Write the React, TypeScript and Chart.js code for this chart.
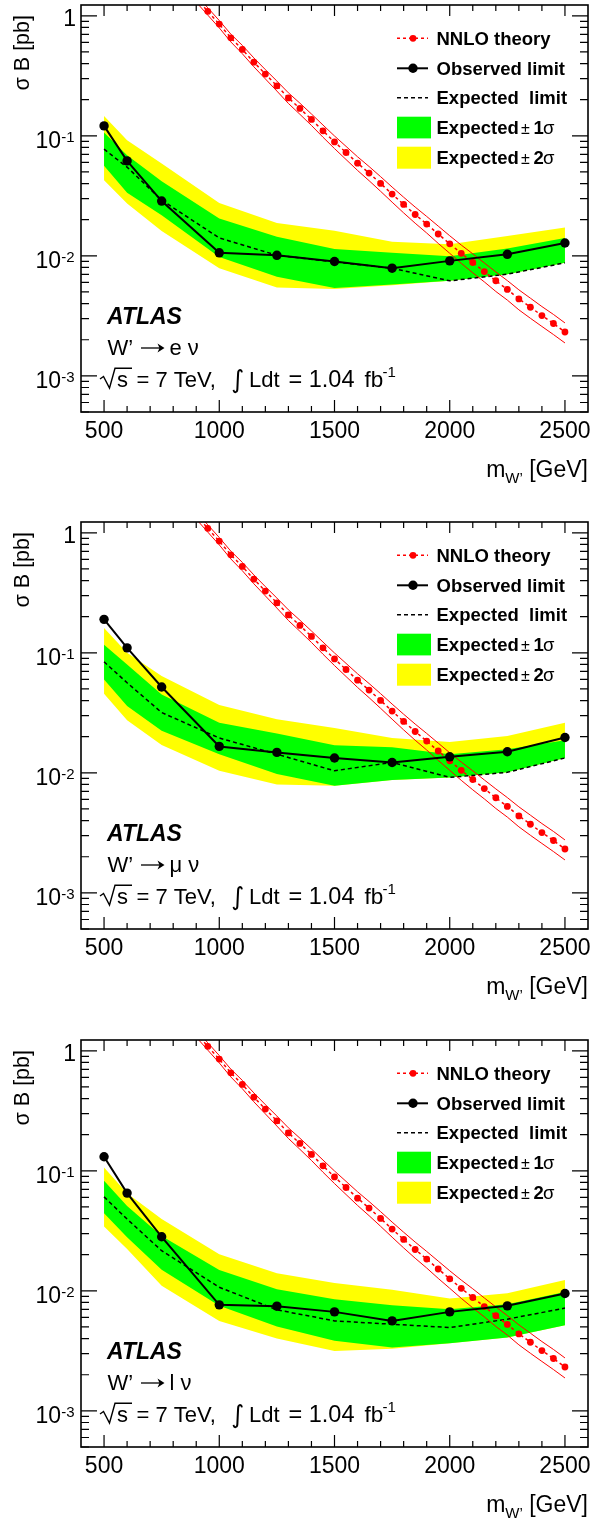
import React, { useEffect, useRef } from "react";
import { Chart, registerables } from "chart.js";

Chart.register(...registerables);

// ---------------- data ----------------
const massPoints = [500, 600, 750, 1000, 1250, 1500, 1750, 2000, 2250, 2500];

const theoryMass = [900, 950, 1000, 1050, 1100, 1150, 1200, 1250, 1300, 1350, 1400, 1450, 1500, 1550, 1600, 1650, 1700, 1750, 1800, 1850, 1900, 1950, 2000, 2050, 2100, 2150, 2200, 2250, 2300, 2350, 2400, 2450, 2500];
const theoryXsec = [1.40, 1.09, 0.853, 0.655, 0.525, 0.411, 0.327, 0.261, 0.207, 0.169, 0.137, 0.110, 0.089, 0.0726, 0.0592, 0.0489, 0.0401, 0.0327, 0.0268, 0.0221, 0.0184, 0.0152, 0.0126, 0.0105, 0.0088, 0.0074, 0.0062, 0.00525, 0.00438, 0.00373, 0.00318, 0.00273, 0.00232];
const theoryHigh = [1.50, 1.166, 0.913, 0.704, 0.567, 0.446, 0.356, 0.286, 0.228, 0.187, 0.152, 0.123, 0.0997, 0.0817, 0.0669, 0.0555, 0.0457, 0.0374, 0.0308, 0.0255, 0.0213, 0.0177, 0.0147, 0.0123, 0.0104, 0.00873, 0.00735, 0.00622, 0.00521, 0.00444, 0.00378, 0.00325, 0.00276];
const theoryLow = [1.30, 1.014, 0.793, 0.606, 0.483, 0.376, 0.298, 0.236, 0.186, 0.151, 0.122, 0.0974, 0.0783, 0.0635, 0.0515, 0.0423, 0.0345, 0.0280, 0.0228, 0.0187, 0.0155, 0.0127, 0.0105, 0.00866, 0.00722, 0.00607, 0.00505, 0.00428, 0.00355, 0.00302, 0.00258, 0.00221, 0.00188];

// W' -> e nu
const obsE = [0.121, 0.0618, 0.0286, 0.0106, 0.0101, 0.00898, 0.00789, 0.00908, 0.0103, 0.0128];
const expE = [0.0774, 0.0548, 0.0291, 0.0141, 0.0101, 0.0089, 0.00789, 0.00619, 0.00703, 0.00874];
const sig1UpE = [0.1066, 0.069, 0.0419, 0.0205, 0.0144, 0.0114, 0.0106, 0.0099, 0.0115, 0.0141];
const sig1DnE = [0.0562, 0.0335, 0.0218, 0.0098, 0.00668, 0.0054, 0.00577, 0.00619, 0.00703, 0.00874];
const sig2UpE = [0.146, 0.092, 0.0589, 0.0276, 0.0188, 0.0162, 0.0131, 0.0125, 0.0146, 0.0172];
const sig2DnE = [0.0427, 0.0273, 0.0161, 0.0079, 0.00545, 0.0053, 0.0057, 0.00619, 0.00703, 0.00874];

// W' -> mu nu
const obsMu = [0.190, 0.110, 0.0519, 0.0166, 0.0148, 0.0133, 0.0122, 0.0136, 0.0150, 0.0197];
const expMu = [0.0842, 0.0563, 0.0318, 0.0195, 0.0143, 0.0104, 0.0122, 0.00916, 0.0101, 0.0133];
const sig1UpMu = [0.117, 0.080, 0.045, 0.0262, 0.0213, 0.0170, 0.0163, 0.0143, 0.0157, 0.0187];
const sig1DnMu = [0.060, 0.036, 0.0224, 0.0143, 0.0098, 0.0078, 0.0087, 0.00916, 0.0101, 0.0133];
const sig2UpMu = [0.161, 0.100, 0.064, 0.0367, 0.0279, 0.0236, 0.0195, 0.0181, 0.0203, 0.0262];
const sig2DnMu = [0.0457, 0.0274, 0.0171, 0.0104, 0.0080, 0.0078, 0.0087, 0.00916, 0.0101, 0.0133];

// W' -> l nu
const obsL = [0.131, 0.0652, 0.0282, 0.00764, 0.00745, 0.00668, 0.00562, 0.00668, 0.0075, 0.0095];
const expL = [0.0607, 0.0396, 0.0216, 0.0107, 0.00695, 0.00562, 0.00527, 0.00495, 0.00581, 0.00718];
const sig1UpL = [0.0826, 0.051, 0.0287, 0.0149, 0.0103, 0.00853, 0.0076, 0.00703, 0.00775, 0.0098];
const sig1DnL = [0.0444, 0.0279, 0.0150, 0.0075, 0.00505, 0.00383, 0.00337, 0.00366, 0.00408, 0.00518];
const sig2UpL = [0.1066, 0.0649, 0.0396, 0.0202, 0.0140, 0.0116, 0.0102, 0.00865, 0.00957, 0.0123];
const sig2DnL = [0.0344, 0.0223, 0.0110, 0.00562, 0.0040, 0.00316, 0.0033, 0.00366, 0.00408, 0.00518];

const xTickLabels = [500, 1000, 1500, 2000, 2500];
const yTickExponents = [0, -1, -2, -3];
const channelLabels = ["e", "\u03bc", "l"];

// ---------------- style ----------------
const FONT = '"Liberation Sans", Arial, Helvetica, sans-serif';
const GREEN = "#00ff00";
const YELLOW = "#ffff00";
const RED = "#ff0000";

type PanelData = {
  channel: string;
  obs: number[];
  exp: number[];
  s1u: number[];
  s1d: number[];
  s2u: number[];
  s2d: number[];
};

const panels: PanelData[] = [
  { channel: channelLabels[0], obs: obsE, exp: expE, s1u: sig1UpE, s1d: sig1DnE, s2u: sig2UpE, s2d: sig2DnE },
  { channel: channelLabels[1], obs: obsMu, exp: expMu, s1u: sig1UpMu, s1d: sig1DnMu, s2u: sig2UpMu, s2d: sig2DnMu },
  { channel: channelLabels[2], obs: obsL, exp: expL, s1u: sig1UpL, s1d: sig1DnL, s2u: sig2UpL, s2d: sig2DnL },
];

const pts = (xs: number[], ys: number[]) => xs.map((x, i) => ({ x, y: ys[i] }));

function bandDs(data: number[], color: string, fill: number | false, order: number) {
  return {
    data: pts(massPoints, data),
    borderWidth: 0,
    borderColor: "rgba(0,0,0,0)",
    backgroundColor: color,
    pointRadius: 0,
    fill,
    order,
    tension: 0,
  };
}

function decorPlugin(channel: string) {
  return {
    id: "decor",
    afterDraw(chart: any) {
      const ctx: CanvasRenderingContext2D = chart.ctx;
      const { left, right, top, bottom } = chart.chartArea;
      const xs = chart.scales.x;
      const ys = chart.scales.y;
      ctx.save();
      ctx.fillStyle = "#000";
      ctx.strokeStyle = "#000";

      // ticks
      ctx.lineWidth = 1.2;
      ctx.beginPath();
      for (let v = xs.min; v <= xs.max; v += 100) {
        const px = xs.getPixelForValue(v);
        if (px < left + 1 || px > right - 1) continue;
        const major = v % 500 === 0;
        const lb = major ? 12 : 6;
        const lt = major ? 11 : 6;
        ctx.moveTo(px, bottom);
        ctx.lineTo(px, bottom - lb);
        ctx.moveTo(px, top);
        ctx.lineTo(px, top + lt);
      }
      for (let d = -4; d <= 0; d++) {
        for (let k = 1; k <= 9; k++) {
          const v = k * Math.pow(10, d);
          if (v < ys.min || v > ys.max) continue;
          const py = ys.getPixelForValue(v);
          const len = k === 1 ? 16 : 8;
          ctx.moveTo(left, py);
          ctx.lineTo(left + len, py);
          ctx.moveTo(right, py);
          ctx.lineTo(right - len, py);
        }
      }
      ctx.stroke();

      // frame
      ctx.lineWidth = 1.6;
      ctx.strokeRect(left, top, right - left, bottom - top);

      // x tick labels
      ctx.font = `23px ${FONT}`;
      ctx.textAlign = "center";
      ctx.textBaseline = "alphabetic";
      xTickLabels.forEach((v) => {
        ctx.fillText(String(v), xs.getPixelForValue(v), bottom + 25.5);
      });

      // y tick labels
      yTickExponents.forEach((e) => {
        const py = ys.getPixelForValue(Math.pow(10, e));
        if (e === 0) {
          ctx.font = `23px ${FONT}`;
          ctx.textAlign = "right";
          ctx.fillText("1", 76, py + 10);
        } else {
          ctx.font = `15px ${FONT}`;
          ctx.textAlign = "right";
          const sup = "-" + String(-e);
          const supW = ctx.measureText(sup).width;
          ctx.fillText(sup, 74.5, py + 6.5);
          ctx.font = `23px ${FONT}`;
          ctx.fillText("10", 74.5 - supW, py + 11.7);
        }
      });

      // y title
      ctx.save();
      ctx.translate(29, 15);
      ctx.rotate(-Math.PI / 2);
      ctx.font = `21.5px ${FONT}`;
      ctx.textAlign = "right";
      ctx.fillText("\u03c3 B [pb]", 0, 0);
      ctx.restore();

      // x title
      ctx.textAlign = "left";
      ctx.font = `23px ${FONT}`;
      const gevW = ctx.measureText(" [GeV]").width;
      ctx.font = `15px ${FONT}`;
      const subW = ctx.measureText("W\u2019").width;
      ctx.font = `23px ${FONT}`;
      const mW = ctx.measureText("m").width;
      const xEnd = 588;
      ctx.fillText(" [GeV]", xEnd - gevW, 477);
      ctx.font = `15px ${FONT}`;
      ctx.fillText("W\u2019", xEnd - gevW - subW, 483);
      ctx.font = `23px ${FONT}`;
      ctx.fillText("m", xEnd - gevW - subW - mW, 477);

      // legend
      const lx0 = 397;
      const lx1 = 428;
      const lmid = 413;
      const tx = 436.5;
      ctx.font = `bold 18.5px ${FONT}`;
      ctx.textAlign = "left";
      // NNLO theory
      ctx.strokeStyle = RED;
      ctx.fillStyle = RED;
      ctx.lineWidth = 1.5;
      ctx.setLineDash([3, 3]);
      ctx.beginPath();
      ctx.moveTo(lx0, 38.3);
      ctx.lineTo(lx1, 38.3);
      ctx.stroke();
      ctx.setLineDash([]);
      ctx.beginPath();
      ctx.arc(lmid, 38.3, 3.4, 0, Math.PI * 2);
      ctx.fill();
      ctx.fillStyle = "#000";
      ctx.strokeStyle = "#000";
      ctx.fillText("NNLO theory", tx, 45);
      // observed
      ctx.lineWidth = 2;
      ctx.beginPath();
      ctx.moveTo(lx0, 68.3);
      ctx.lineTo(lx1, 68.3);
      ctx.stroke();
      ctx.beginPath();
      ctx.arc(lmid, 68.3, 4.7, 0, Math.PI * 2);
      ctx.fill();
      ctx.fillText("Observed limit", tx, 75);
      // expected
      ctx.lineWidth = 1.5;
      ctx.setLineDash([4, 3]);
      ctx.beginPath();
      ctx.moveTo(lx0, 97.7);
      ctx.lineTo(lx1, 97.7);
      ctx.stroke();
      ctx.setLineDash([]);
      ctx.fillText("Expected  limit", tx, 104.3);
      // boxes
      ctx.fillStyle = GREEN;
      ctx.fillRect(lx0, 116.7, 34, 21.7);
      ctx.fillStyle = YELLOW;
      ctx.fillRect(lx0, 146.7, 34, 22);
      ctx.fillStyle = "#000";
      [
        { y: 134.3, n: "1" },
        { y: 164.3, n: "2" },
      ].forEach(({ y, n }) => {
        ctx.font = `bold 18.5px ${FONT}`;
        ctx.fillText("Expected", tx, y);
        ctx.font = `16px ${FONT}`;
        ctx.fillText("\u00b1", 521, y);
        ctx.font = `bold 18.5px ${FONT}`;
        ctx.fillText(n, 533.5, y);
        ctx.font = `18.5px ${FONT}`;
        ctx.fillText("\u03c3", 543, y);
      });

      // annotations
      ctx.font = `italic bold 23px ${FONT}`;
      ctx.fillText("ATLAS", 107, 324);
      ctx.font = `22px ${FONT}`;
      ctx.fillText("W\u2019", 107.5, 355);
      // arrow
      ctx.lineWidth = 1.3;
      ctx.beginPath();
      ctx.moveTo(141, 348);
      ctx.lineTo(162, 348);
      ctx.stroke();
      ctx.beginPath();
      ctx.moveTo(164.5, 348);
      ctx.lineTo(157.5, 343.5);
      ctx.lineTo(159.5, 348);
      ctx.lineTo(157.5, 352.5);
      ctx.closePath();
      ctx.fill();
      ctx.fillText(channel, 169.5, 355);
      const chW = ctx.measureText(channel + " ").width;
      ctx.fillText("\u03bd", 169.5 + chW, 355);
      // sqrt(s)
      ctx.lineWidth = 1.4;
      ctx.beginPath();
      ctx.moveTo(100, 379);
      ctx.lineTo(103.5, 376.5);
      ctx.lineTo(109.5, 388);
      ctx.lineTo(115, 368.3);
      ctx.lineTo(132, 368.3);
      ctx.stroke();
      ctx.fillText("s", 117, 387);
      ctx.fillText("= 7 TeV,", 136.5, 387);
      ctx.font = `25px "DejaVu Sans", ${FONT}`;
      ctx.fillText("\u222b", 231, 388);
      ctx.font = `22px ${FONT}`;
      ctx.fillText("Ldt", 249, 387);
      ctx.font = `23.5px ${FONT}`;
      ctx.fillText("= 1.04", 288.5, 387);
      ctx.font = `22.5px ${FONT}`;
      ctx.fillText("fb", 364.5, 387);
      ctx.font = `15px ${FONT}`;
      ctx.fillText("-1", 382.5, 376.5);

      ctx.restore();
    },
  };
}

function PanelChart({ panel, height }: { panel: PanelData; height: number }) {
  const ref = useRef<HTMLCanvasElement>(null);
  useEffect(() => {
    const canvas = ref.current;
    if (!canvas) return;
    const datasets: any[] = [
      bandDs(panel.s2u, YELLOW, 1, 20),
      bandDs(panel.s2d, YELLOW, false, 21),
      bandDs(panel.s1u, GREEN, 3, 18),
      bandDs(panel.s1d, GREEN, false, 19),
      {
        data: pts(massPoints, panel.exp),
        borderColor: "#000",
        borderWidth: 1.5,
        borderDash: [4, 3],
        pointRadius: 0,
        fill: false,
        order: 10,
        tension: 0,
      },
      {
        data: pts(theoryMass, theoryHigh),
        borderColor: RED,
        borderWidth: 1,
        pointRadius: 0,
        fill: false,
        order: 8,
        tension: 0,
      },
      {
        data: pts(theoryMass, theoryLow),
        borderColor: RED,
        borderWidth: 1,
        pointRadius: 0,
        fill: false,
        order: 8,
        tension: 0,
      },
      {
        data: pts(theoryMass, theoryXsec),
        borderColor: RED,
        borderWidth: 1.5,
        borderDash: [3, 3],
        pointRadius: 3.4,
        pointBackgroundColor: RED,
        pointBorderWidth: 0,
        pointBorderColor: RED,
        fill: false,
        order: 5,
        tension: 0,
      },
      {
        data: pts(massPoints, panel.obs),
        borderColor: "#000",
        borderWidth: 2,
        pointRadius: 4.7,
        pointBackgroundColor: "#000",
        pointBorderWidth: 0,
        pointBorderColor: "#000",
        fill: false,
        order: 1,
        tension: 0,
      },
    ];
    const chart = new Chart(canvas, {
      type: "line",
      data: { datasets },
      options: {
        animation: false,
        responsive: false,
        events: [],
        layout: { padding: { top: 5, right: 5, left: 0, bottom: 0 } },
        plugins: { legend: { display: false }, tooltip: { enabled: false } },
        scales: {
          x: {
            type: "linear",
            min: 400,
            max: 2600,
            ticks: { display: false },
            grid: { display: false },
            border: { display: false },
            afterFit: (s: any) => {
              s.height = height - 412;
            },
          },
          y: {
            type: "logarithmic",
            min: 5e-4,
            max: 1.23,
            ticks: { display: false },
            grid: { display: false },
            border: { display: false },
            afterFit: (s: any) => {
              s.width = 81;
            },
          },
        },
      } as any,
      plugins: [decorPlugin(panel.channel)],
    });
    return () => chart.destroy();
  }, [panel, height]);
  return (
    <canvas
      ref={ref}
      width={593}
      height={height}
      style={{ display: "block", width: 593, height }}
    />
  );
}

const panelTops = [0, 517, 1035];
const panelHeights = [517, 518, 484];

export default function App() {
  return (
    <div
      style={{
        position: "absolute",
        left: 0,
        top: 0,
        width: 593,
        height: 1519,
        overflow: "hidden",
        background: "#fff",
      }}
    >
      {panels.map((p, i) => (
        <div
          key={i}
          style={{ position: "absolute", left: 0, top: panelTops[i], width: 593, height: panelHeights[i] }}
        >
          <PanelChart panel={p} height={panelHeights[i]} />
        </div>
      ))}
    </div>
  );
}
